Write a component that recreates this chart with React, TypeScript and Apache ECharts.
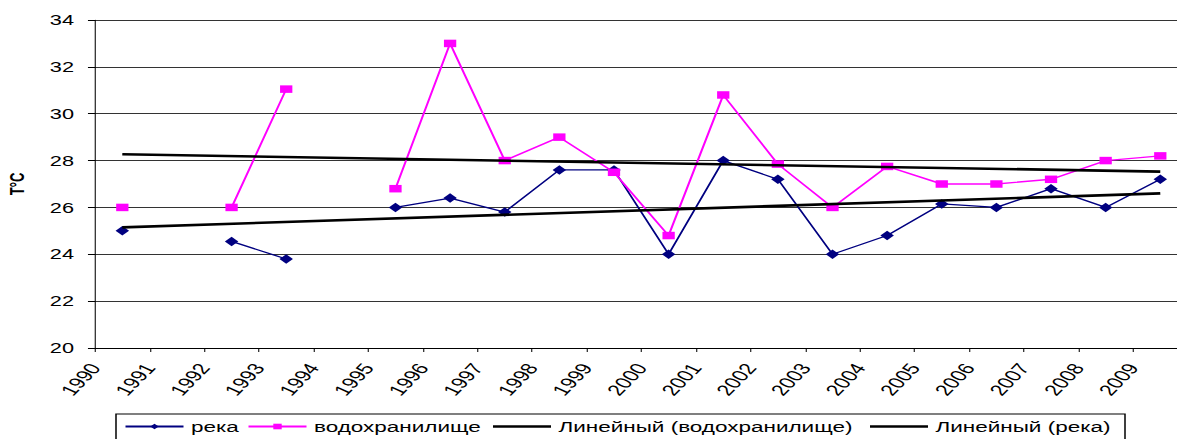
import React, { useEffect, useRef } from "react";
import * as echarts from "echarts";

// ---- data ----
const years = [1990, 1991, 1992, 1993, 1994, 1995, 1996, 1997, 1998, 1999, 2000, 2001, 2002, 2003, 2004, 2005, 2006, 2007, 2008, 2009];
const river: (number | null)[] = [25.0, null, 24.55, 23.8, null, 26.0, 26.4, 25.8, 27.6, 27.6, 24.0, 28.0, 27.2, 24.0, 24.8, 26.15, 26.0, 26.8, 26.0, 27.2];
const reservoir: (number | null)[] = [26.0, null, 26.0, 31.05, null, 26.8, 33.0, 28.0, 29.0, 27.5, 24.8, 30.8, 27.85, 26.0, 27.75, 27.0, 27.0, 27.2, 28.0, 28.2];
// trend line end points (first and last year)
const trendReservoir = [28.27, 27.53];
const trendRiver = [25.15, 26.6];
const yTicks = [20, 22, 24, 26, 28, 30, 32, 34];

const names = ["река", "водохранилище", "Линейный (водохранилище)", "Линейный (река)"];

// the reference is horizontally stretched; draw at 1/1.5 width and scale
const SX = 1.5;
const FONT = "'Liberation Sans', Arial, sans-serif";

export default function App() {
  const ref = useRef<HTMLDivElement>(null);
  useEffect(() => {
    if (!ref.current) return;
    const chart = echarts.init(ref.current, undefined, { renderer: "svg" });
    const pt = (vals: (number | null)[]) => years.map((y, i) => [y + 0.5, vals[i]]);
    const first = years[0] + 0.5;
    const last = years[years.length - 1] + 0.5;
    const legendLefts = [124 / SX, 247 / SX, 493 / SX, 870 / SX];
    chart.setOption({
      animation: false,
      backgroundColor: "#fff",
      grid: {
        left: 95 / SX,
        right: 785 - 1187.6 / SX,
        top: 20,
        bottom: 91,
        containLabel: false,
        outerBoundsMode: "none",
      },
      xAxis: {
        type: "value",
        min: years[0],
        max: years[years.length - 1] + 1,
        interval: 1,
        axisLine: { show: true, onZero: false, lineStyle: { color: "#000", width: 1 } },
        axisTick: { show: true, inside: false, length: 4, lineStyle: { color: "#000", width: 0.7 } },
        splitLine: { show: false },
        axisLabel: {
          rotate: 56,
          margin: 17,
          fontSize: 15.5,
          color: "#000",
          fontFamily: FONT,
          hideOverlap: false,
          formatter: (v: number) => (years.indexOf(v) >= 0 ? String(v) : ""),
        },
      },
      yAxis: {
        type: "value",
        min: yTicks[0],
        max: yTicks[yTicks.length - 1],
        interval: 2,
        name: "T°C",
        nameLocation: "middle",
        nameGap: 45,
        nameTextStyle: { fontSize: 13, fontWeight: "bold", color: "#000", fontFamily: FONT },
        axisLine: { show: true, lineStyle: { color: "#000", width: 0.7 } },
        axisTick: { show: true, inside: false, length: 4.7, lineStyle: { color: "#000", width: 1 } },
        splitLine: { show: true, lineStyle: { color: "#333", width: 1 } },
        axisLabel: { margin: 14, fontSize: 14.5, color: "#000", fontFamily: FONT },
      },
      legend: names.map((n, i) => ({
        data: i < 2 ? [n] : [{ name: n, icon: "rect" }],
        left: legendLefts[i],
        top: 419,
        padding: 0,
        itemWidth: 58 / SX,
        itemHeight: i < 2 ? 7 : 2.6,
        itemGap: 0,
        selectedMode: false,
        textStyle: { fontSize: 15, color: "#000", fontFamily: FONT, padding: [0, 0, 0, 0] },
      })),
      graphic: [
        {
          type: "rect",
          silent: true,
          z: -1,
          shape: { x: 116 / SX, y: 414, width: (1125 - 116) / SX, height: 40 },
          style: { fill: "none", stroke: "#000", lineWidth: 1 },
        },
      ],
      series: [
        {
          name: names[0],
          type: "line",
          data: pt(river),
          connectNulls: false,
          symbol: "diamond",
          symbolSize: [9, 9.5],
          itemStyle: { color: "#000080" },
          lineStyle: { color: "#000080", width: 1.3 },
          z: 2,
        },
        {
          name: names[1],
          type: "line",
          data: pt(reservoir),
          connectNulls: false,
          symbol: "rect",
          symbolSize: [8.2, 7.5],
          itemStyle: { color: "#FF00FF" },
          lineStyle: { color: "#FF00FF", width: 1.4 },
          z: 3,
        },
        {
          name: names[2],
          type: "line",
          data: [[first, trendReservoir[0]], [last, trendReservoir[1]]],
          symbol: "none",
          itemStyle: { color: "#000" },
          lineStyle: { color: "#000", width: 2.6 },
          z: 4,
        },
        {
          name: names[3],
          type: "line",
          data: [[first, trendRiver[0]], [last, trendRiver[1]]],
          symbol: "none",
          itemStyle: { color: "#000" },
          lineStyle: { color: "#000", width: 2.6 },
          z: 4,
        },
      ],
    });
    return () => chart.dispose();
  }, []);
  return (
    <div style={{ position: "absolute", left: 0, top: 0, width: 1177, height: 439, overflow: "hidden", background: "#fff" }}>
      <div
        ref={ref}
        style={{ width: 785, height: 439, transform: `scaleX(${SX})`, transformOrigin: "0 0" }}
      />
    </div>
  );
}
